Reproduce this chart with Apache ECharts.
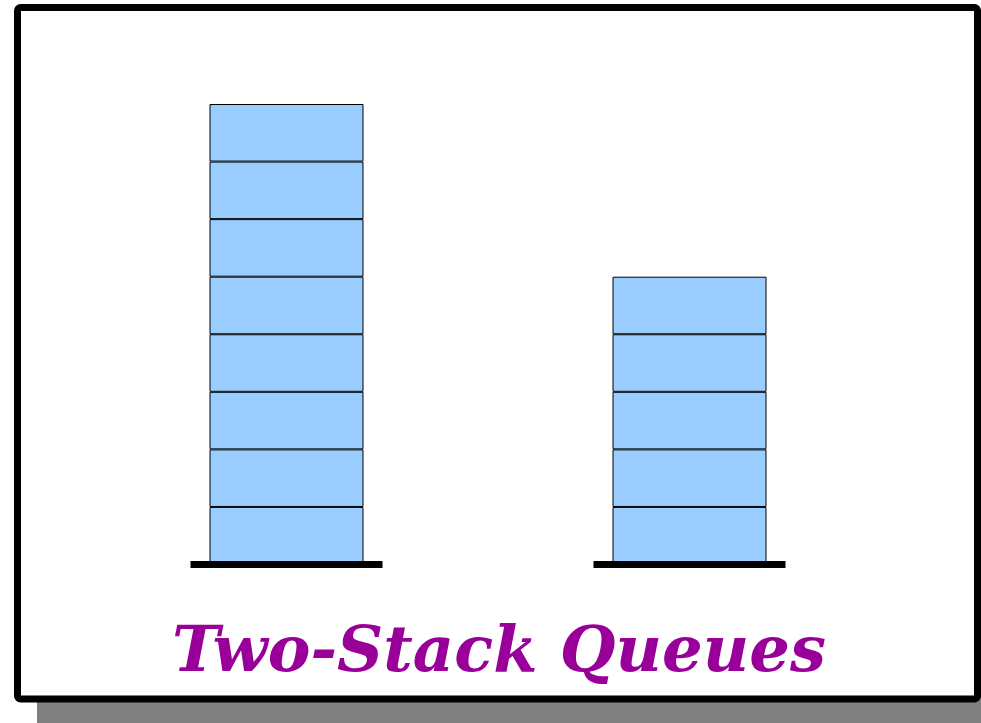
<!DOCTYPE html>
<html>
<head>
<meta charset="utf-8">
<script src="https://cdn.jsdelivr.net/npm/echarts@6/dist/echarts.min.js"></script>
<style>
  html, body { margin: 0; padding: 0; background: #fff; }
  #chart { width: 981px; height: 723px; }
</style>
</head>
<body>
<div id="chart"></div>
<script>
// two stacks, how many boxes in each
const stackNames = ['in', 'out']
const stackHeights = [8, 5]
const titleText = 'Two-Stack Queues'

const maxHeight = Math.max(...stackHeights)

// one stacked series per box level
let boxSeries = []
for (let i = 0; i < maxHeight; i++) {
  boxSeries.push({
    type: 'bar',
    stack: 'boxes',
    barWidth: 154,
    silent: true,
    itemStyle: {
      color: '#99ccff',
      borderColor: '#000',
      borderWidth: 1
    },
    data: stackHeights.map(h => (h > i ? 1 : '-'))
  })
}

// black floor under each stack
let floorSeries = {
  type: 'custom',
  silent: true,
  z: 10,
  renderItem(params, api) {
    let p = api.coord([api.value(0), 0])
    return {
      type: 'rect',
      shape: { x: p[0] - 96, y: p[1] - 3.5, width: 192, height: 7 },
      style: { fill: '#000' }
    }
  },
  data: stackNames.map((n, i) => [i])
}

let myChart = echarts.init(document.getElementById('chart'))
let option = {
  animation: false,
  title: {
    text: titleText,
    left: 167,
    top: 617,
    textStyle: {
      fontFamily: 'DejaVu Serif',
      fontStyle: 'italic',
      fontWeight: 'bold',
      fontSize: 64,
      color: '#990099'
    }
  },
  graphic: [
    // shadow behind the frame
    {
      type: 'rect',
      z: -10,
      shape: { x: 37, y: 27, width: 980, height: 700 },
      style: { fill: '#808080' }
    },
    {
      type: 'rect',
      z: -9,
      shape: { x: 17.5, y: 7.5, width: 960, height: 691.5, r: 3 },
      style: { fill: '#fff', stroke: '#000', lineWidth: 7 }
    }
  ],
  grid: {
    left: 85,
    width: 806,
    top: 104,
    bottom: 158.5
  },
  xAxis: {
    type: 'category',
    data: stackNames,
    show: false
  },
  yAxis: {
    type: 'value',
    min: 0,
    max: maxHeight,
    show: false
  },
  series: boxSeries.concat([floorSeries])
}
myChart.setOption(option)
</script>
</body>
</html>
